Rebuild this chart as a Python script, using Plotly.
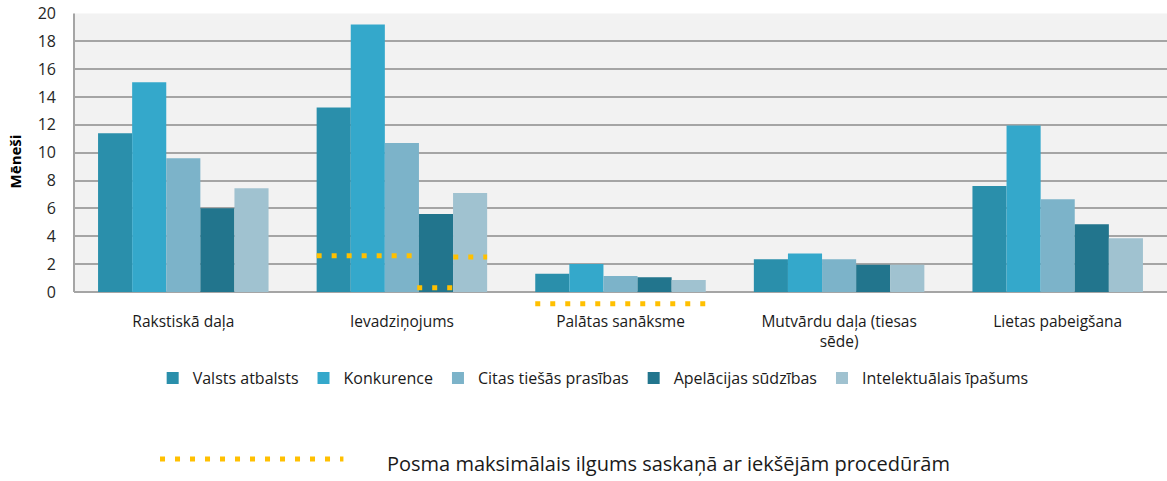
import plotly.graph_objects as go

# ---- data ----
stages = ["Rakstiskā daļa", "Ievadziņojums", "Palātas sanāksme",
          "Mutvārdu daļa (tiesas<br>sēde)", "Lietas pabeigšana"]
series_names = ["Valsts atbalsts", "Konkurence", "Citas tiešās prasības",
                "Apelācijas sūdzības", "Intelektuālais īpašums"]
valsts_atbalsts = [11.4, 13.25, 1.3, 2.35, 7.6]
konkurence = [15.05, 19.2, 2.0, 2.75, 11.95]
citas_prasibas = [9.6, 10.7, 1.15, 2.35, 6.65]
apelacijas = [6.0, 5.6, 1.05, 1.95, 4.85]
intelektualais = [7.45, 7.1, 0.85, 1.95, 3.85]
series_values = [valsts_atbalsts, konkurence, citas_prasibas, apelacijas, intelektualais]
y_ticks = [0, 2, 4, 6, 8, 10, 12, 14, 16, 18, 20]

# maximum stage durations (internal procedures): x-span in category units, months
limit_x_start = [0.61, 1.07, 1.235, 1.61]
limit_x_end = [1.07, 1.27, 1.39, 2.40]
limit_y = [2.6, 0.3, 2.5, -0.85]
limit_label = "Posma maksimālais ilgums saskaņā ar iekšējām procedūrām"

colors = ["#2A8FAB", "#34A8CB", "#7CB3C9", "#22758D", "#A0C2D0"]
font_family = "Open Sans, Lato, DejaVu Sans, sans-serif"
ORANGE = "#FFC000"

fig = go.Figure()
x_idx = list(range(len(stages)))
for name, vals, col in zip(series_names, series_values, colors):
    fig.add_trace(go.Bar(x=x_idx, y=vals, name=name, marker_color=col,
                         marker_line_width=0))

lx, ly = [], []
for a, b, v in zip(limit_x_start, limit_x_end, limit_y):
    lx += [a, b, None]
    ly += [v, v, None]
fig.add_trace(go.Scatter(x=lx, y=ly, mode="lines", showlegend=False,
                         line=dict(color=ORANGE, width=5, dash="5px,10px"),
                         hoverinfo="skip"))

fig.update_layout(
    width=1167, height=481,
    margin=dict(l=74, r=0, t=13, b=171, autoexpand=False),
    paper_bgcolor="white", plot_bgcolor="white",
    barmode="group", bargap=0.22, bargroupgap=0,
    font=dict(family=font_family, color="#1a1a1a", size=14),
    legend=dict(orientation="h", x=0.475, xanchor="center", y=-0.229, yanchor="middle",
                font=dict(size=16, color="#1a1a1a"), itemclick=False),
    showlegend=True,
)
fig.update_xaxes(range=[-0.5, 4.5], tickvals=x_idx, ticktext=stages,
                 showgrid=False, zeroline=False, showline=False, ticks="",
                 automargin=False,
                 tickfont=dict(size=15.5, color="#1a1a1a"))
fig.update_yaxes(range=[-1.3, 20.03], tickvals=y_ticks, showgrid=True,
                 gridcolor="#A5A5A5", gridwidth=2, zeroline=False, showline=False,
                 ticks="", ticklabelstandoff=17, automargin=False,
                 ticklabeloverflow="allow",
                 tickfont=dict(size=16, color="#262626"),
                 title=dict(text="<b>Mēneši</b>", font=dict(size=15, color="#000"),
                            standoff=12))

# plot background only over the value area (0..20), and left border
fig.add_shape(type="rect", xref="paper", yref="y", x0=0, x1=1, y0=0, y1=20,
              fillcolor="#F2F2F2", line_width=0, layer="below")
fig.add_shape(type="line", xref="paper", yref="y", x0=0, x1=0, y0=0, y1=20,
              line=dict(color="#A5A5A5", width=2), layer="below")

# second legend row: dotted line + label
fig.add_shape(type="line", xref="paper", yref="paper", x0=0.0787, x1=0.2465,
              y0=-0.502, y1=-0.502, line=dict(color=ORANGE, width=5, dash="5px,10px"))
fig.add_annotation(xref="paper", yref="paper", x=0.2845, y=-0.518, xanchor="left",
                   yanchor="middle", text=limit_label, showarrow=False,
                   font=dict(size=20, color="#1a1a1a"))

# remove the browser's default 8px page margin so the figure fills the window
fig.write_html("out.html", config={"displayModeBar": False},
               post_script="document.body.style.margin='0';document.body.style.overflow='hidden';")
